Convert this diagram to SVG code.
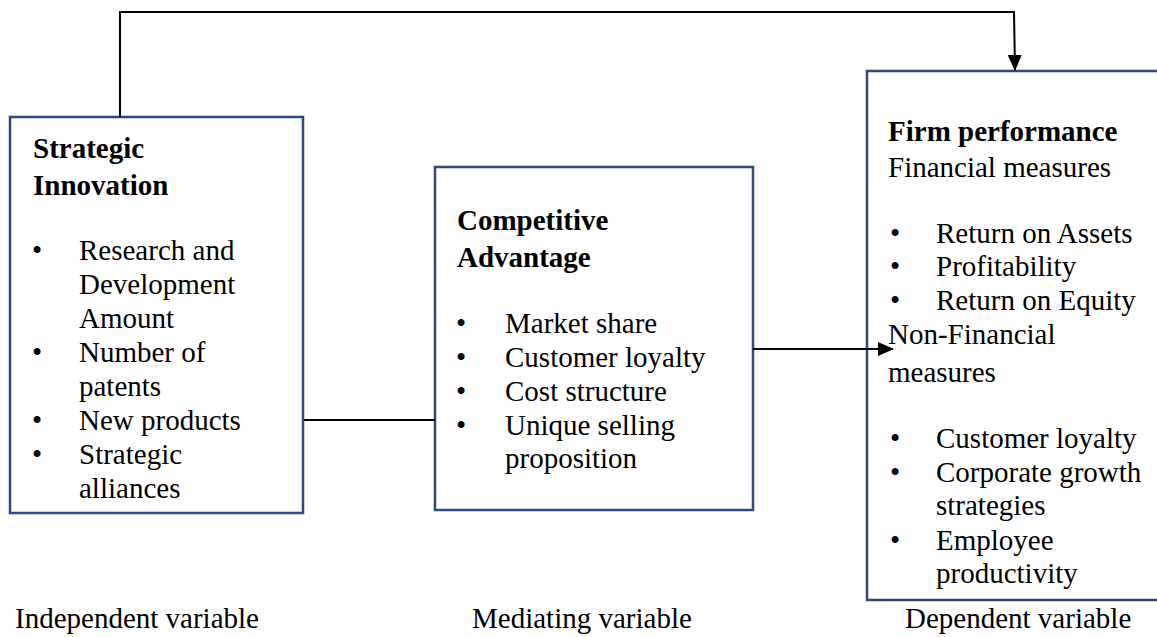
<svg xmlns="http://www.w3.org/2000/svg" width="1157" height="637" viewBox="0 0 1157 637">
<defs>
<style>
.box{fill:#fff;stroke:#2F4A7A;stroke-width:2.5}
.t{font-family:"Liberation Serif","Times New Roman",serif;font-size:29px;fill:#000}
.b{font-weight:bold}
.ln{fill:none;stroke:#000;stroke-width:2}
</style>
<marker id="ah" markerWidth="8" markerHeight="7" refX="7.5" refY="3.5" orient="auto" markerUnits="strokeWidth">
<path d="M0,0 L8,3.5 L0,7 Z" fill="#000"/>
</marker>
</defs>
<rect width="1157" height="637" fill="#fff"/>
<g id="strategic-innovation">
<rect class="box" x="10" y="117" width="293" height="396"/>
<text class="t b" x="33" y="158">Strategic</text>
<text class="t b" x="33" y="195">Innovation</text>
<text class="t" x="32" y="260">•</text><text class="t" x="79" y="260">Research and</text>
<text class="t" x="79" y="294">Development</text>
<text class="t" x="79" y="328">Amount</text>
<text class="t" x="32" y="362">•</text><text class="t" x="79" y="362">Number of</text>
<text class="t" x="79" y="396">patents</text>
<text class="t" x="32" y="430">•</text><text class="t" x="79" y="430">New products</text>
<text class="t" x="32" y="464">•</text><text class="t" x="79" y="464">Strategic</text>
<text class="t" x="79" y="498">alliances</text>
</g>
<g id="competitive-advantage">
<rect class="box" x="435" y="167" width="318" height="343"/>
<text class="t b" x="457" y="230">Competitive</text>
<text class="t b" x="457" y="267">Advantage</text>
<text class="t" x="456" y="333">•</text><text class="t" x="505" y="333">Market share</text>
<text class="t" x="456" y="367">•</text><text class="t" x="505" y="367">Customer loyalty</text>
<text class="t" x="456" y="401">•</text><text class="t" x="505" y="401">Cost structure</text>
<text class="t" x="456" y="435">•</text><text class="t" x="505" y="435">Unique selling</text>
<text class="t" x="505" y="468">proposition</text>
</g>
<g id="firm-performance">
<rect class="box" x="867" y="71" width="300" height="529"/>
<text class="t b" x="888" y="141">Firm performance</text>
<text class="t" x="888" y="177">Financial measures</text>
<text class="t" x="890" y="243">•</text><text class="t" x="936" y="243">Return on Assets</text>
<text class="t" x="890" y="276">•</text><text class="t" x="936" y="276">Profitability</text>
<text class="t" x="890" y="310">•</text><text class="t" x="936" y="310">Return on Equity</text>
<text class="t" x="888" y="344">Non-Financial</text>
<text class="t" x="888" y="382">measures</text>
<text class="t" x="890" y="448">•</text><text class="t" x="936" y="448">Customer loyalty</text>
<text class="t" x="890" y="482">•</text><text class="t" x="936" y="482">Corporate growth</text>
<text class="t" x="936" y="515">strategies</text>
<text class="t" x="890" y="550">•</text><text class="t" x="936" y="550">Employee</text>
<text class="t" x="936" y="583">productivity</text>
</g>
<g id="labels">
<text class="t" x="15" y="628">Independent variable</text>
<text class="t" x="472" y="628">Mediating variable</text>
<text class="t" x="905" y="628">Dependent variable</text>
</g>
<g id="connectors">
<path class="ln" d="M120,117 L120,12 L1014,12 L1015,70" marker-end="url(#ah)"/>
<path class="ln" d="M304,420 L435,420"/>
<path class="ln" d="M753,349 L893,349" marker-end="url(#ah)"/>
</g>
</svg>
